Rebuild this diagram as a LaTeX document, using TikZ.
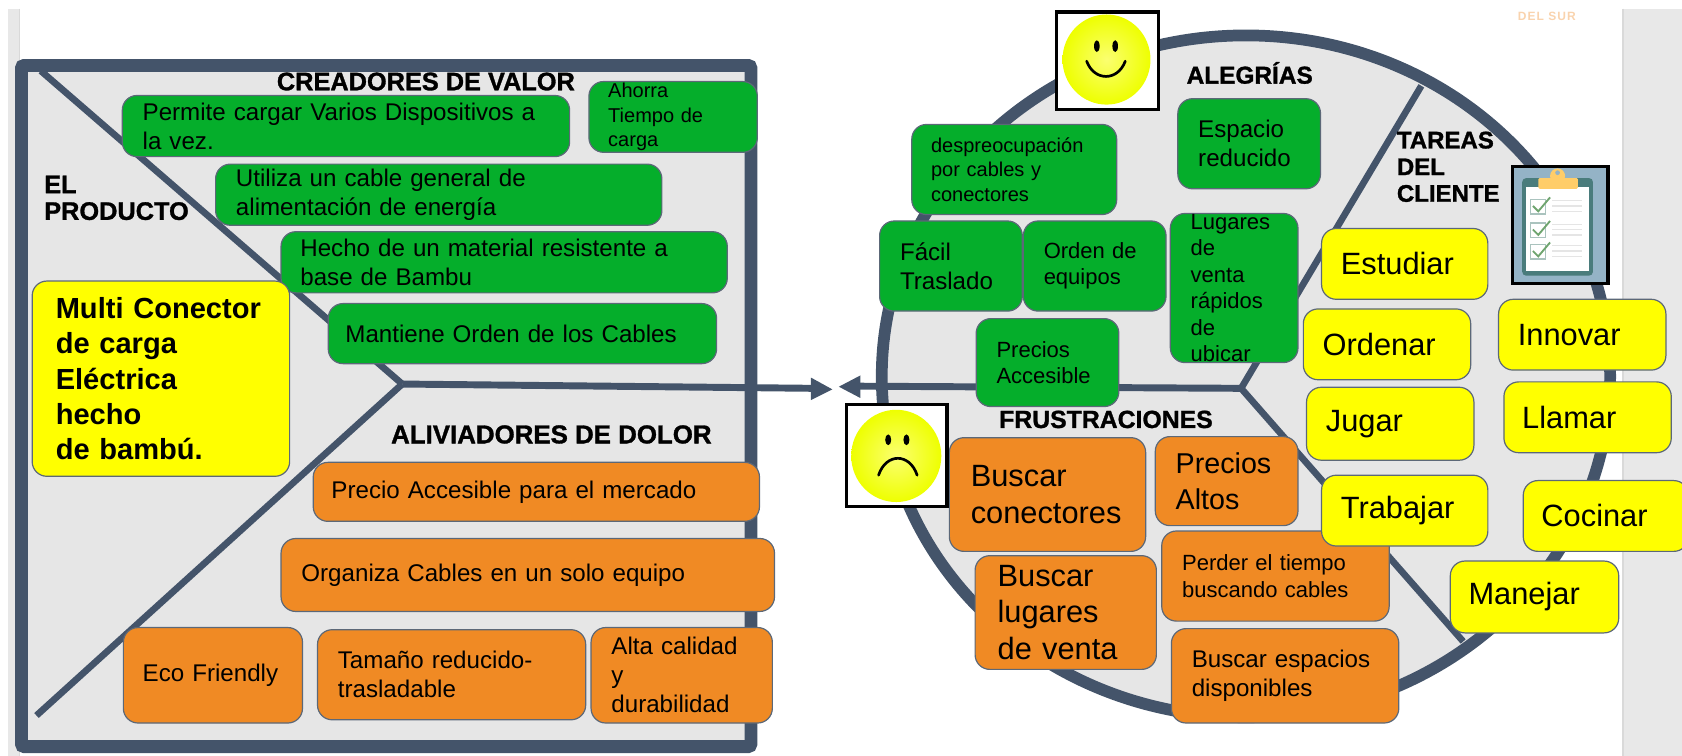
\documentclass[tikz,border=0pt]{standalone}
\usepackage{fontspec}
\setmainfont{Liberation Sans}
\newfontfamily\headfont[BoldFeatures={FakeBold=1.2}]{Liberation Sans}
\hyphenpenalty=10000
\exhyphenpenalty=10000
\definecolor{frameblue}{HTML}{44546A}
\definecolor{panel}{HTML}{E6E6E6}
\definecolor{sidebar}{HTML}{E8E8E8}
\definecolor{boxgreen}{HTML}{05AE2B}
\definecolor{boxorange}{HTML}{F08A24}
\definecolor{boxyellow}{HTML}{FFFF00}
\definecolor{boxedge}{HTML}{5C6878}
\definecolor{faceyellow}{HTML}{EEFF00}
\definecolor{facelight}{HTML}{FBFF70}
\definecolor{delsur}{HTML}{F9D3AE}
\definecolor{clipback}{HTML}{94B3C6}
\definecolor{clipboard}{HTML}{4A7C7C}
\definecolor{clipgold}{HTML}{FFCD69}
\definecolor{clipbox}{HTML}{AAC3BE}
\definecolor{clipcheck}{HTML}{6FA56F}
\tikzset{
  x=0.8045pt,y=-0.8045pt,
  card/.style={draw=boxedge,line width=0.9pt,rounded corners=11pt,align=left,text=black},
  green/.style={card,fill=boxgreen},
  orange/.style={card,fill=boxorange},
  yellow/.style={card,fill=boxyellow},
  med/.style={font=\fontsize{18.1}{21.7}\selectfont},
  sm/.style={font=\fontsize{15}{18.3}\selectfont},
  ms/.style={font=\fontsize{16.5}{19.8}\selectfont},
  big/.style={font=\fontsize{23.1}{27.4}\selectfont},
  head/.style={text=black,inner sep=0pt,align=left},
  bar/.style={frameblue,line width=5pt},
  shaft/.style={frameblue,line width=5.2pt},
  tip/.style={fill=frameblue,draw=none},
  iconframe/.style={draw=black,line width=2.6pt,fill=white},
  facefill/.style={inner color=facelight,outer color=faceyellow,draw=none},
  feature/.style={black,line width=2pt,line cap=round},
}
\newcommand{\hf}[1]{\fontsize{#1}{20}\headfont\bfseries}
% #1 style, #2 name, #3-#6 x1 y1 x2 y2, #7 text left edge, #8 text
\newcommand{\bx}[8]{%
  \pgfmathsetmacro{\bw}{(#5-#3)*0.8045}%
  \pgfmathsetmacro{\bh}{(#6-#4)*0.8045}%
  \pgfmathsetmacro{\bp}{(#7-#3)*0.8045}%
  \pgfmathsetmacro{\bt}{\bw-2*\bp}%
  \node[#1,anchor=center,inner xsep=0pt,inner ysep=0pt,minimum width=\bw pt,minimum height=\bh pt,text width=\bt pt] (#2) at ({(#3+#5)/2},{(#4+#6)/2}) {#8};%
}
\begin{document}
\begin{tikzpicture}
\useasboundingbox (0,0) rectangle (1568,704.7);
% window chrome
\fill[sidebar] (7,8) rectangle (18,704.7);
\draw[draw=black!15,line width=0.8pt] (18.5,8) -- (18.5,704.7);
\fill[sidebar] (1513,8) rectangle (1568,704.7);
\draw[draw=black!15,line width=0.8pt] (1513,8) -- (1513,704.7);
\node[font=\fontsize{9}{10}\selectfont\bfseries\addfontfeature{LetterSpace=9},text=delsur,inner sep=0pt] (delsur) at (1442,15) {DEL SUR};

% left canvas
\draw[draw=frameblue,fill=panel,line width=9.6pt,rounded corners=2pt] (20,61) rectangle (700,696);
\coordinate (hubL) at (375,358);
\coordinate (cornerTL) at (38,66);
\coordinate (cornerBL) at (34,667);
\coordinate (arrowR) at (758,362);
\draw[bar] (cornerTL) -- (hubL);
\draw[bar] (cornerBL) -- (hubL);
\draw[shaft] (hubL) -- (arrowR);
\fill[tip] (776,363) -- (756,373) -- (756,352) -- cycle;

% right canvas
\draw[draw=frameblue,fill=panel,line width=8.8pt] (1161.5,350.8) ellipse [x radius=339.5,y radius=317.8];
\coordinate (hubR) at (1157,362);
\coordinate (spokeTop) at (1325,80);
\coordinate (spokeBot) at (1364,598);
\coordinate (arrowL) at (800,360);
\draw[bar] (hubR) -- (spokeTop);
\draw[bar] (hubR) -- (spokeBot);
\draw[shaft] (hubR) -- (arrowL);
\fill[tip] (782,360.5) -- (802,350) -- (802,371) -- cycle;

% headings
\node[head,anchor=center,font=\hf{19}] (hCreadores) at (397,76) {CREADORES DE VALOR};
\node[head,anchor=west,font=\hf{19}] (hProducto) at (41,184.5) {EL\\PRODUCTO};
\node[head,anchor=center,font=\hf{19.4}] (hAliviadores) at (514,405) {ALIVIADORES DE DOLOR};
\node[head,anchor=center,font=\hf{18.3}] (hAlegrias) at (1165,68) {ALEGRÍAS};
\node[head,anchor=west,font=\hf{18}] (hTareas) at (1302,155.5) {TAREAS\\DEL\\CLIENTE};
\node[head,anchor=center,font=\hf{18.6}] (hFrustraciones) at (1031,391) {FRUSTRACIONES};

% value creators
\bx{green,med}{permite}{114}{89}{531}{146}{133}{Permite cargar Varios Dispositivos a\\la vez.}
\bx{green,sm}{ahorra}{549}{76}{706}{142}{567}{Ahorra\\Tiempo de\\carga}
\bx{green,med}{utiliza}{201}{153}{617}{210}{220}{Utiliza un cable general de\\alimentación de energía}
\bx{green,med}{hecho}{262}{216}{678}{273}{280}{Hecho de un material resistente a\\base de Bambu}
\bx{green,med}{mantiene}{306}{283}{668}{339}{322}{Mantiene Orden de los Cables}
% product
\bx{yellow,font=\fontsize{21.8}{26.5}\selectfont\bfseries}{multi}{30}{262}{270}{444}{52}{Multi Conector\\de carga\\Eléctrica\\hecho\\de bambú.}
% pain relievers
\bx{orange,med}{precio}{292}{431}{708}{486}{309}{Precio Accesible para el mercado}
\bx{orange,med}{organiza}{262}{502}{722}{570}{281}{Organiza Cables en un solo equipo}
\bx{orange,med}{eco}{115}{585}{282}{674}{133}{Eco Friendly}
\bx{orange,med}{tamano}{296}{587}{546}{671}{315}{Tamaño reducido-\\trasladable}
\bx{orange,med}{alta}{551}{585}{720}{674}{570}{Alta calidad\\y\\durabilidad}

% gains
\bx{green,sm}{despreo}{850}{116}{1041}{200}{868}{despreocupación\\por cables y\\conectores}
\bx{green,med}{espacio}{1098}{92}{1231}{176}{1117}{Espacio\\reducido}
\bx{green,med}{facil}{820}{206}{953}{290}{839}{Fácil\\Traslado}
\bx{green,ms}{ordeneq}{954}{206}{1087}{290}{973}{Orden de\\equipos}
\bx{green,ms}{lugares}{1091}{199}{1210}{338}{1110}{Lugares\\de\\venta\\rápidos\\de\\ubicar}
\bx{green,ms}{precacc}{910}{297}{1043}{379}{929}{Precios\\Accesible}

% pains
\bx{orange,big}{busconec}{885}{408}{1068}{514}{905}{Buscar\\conectores}
\bx{orange,font=\fontsize{21.5}{26.5}\selectfont}{altos}{1077}{407}{1210}{490}{1096}{Precios\\Altos}
\bx{orange,ms}{perder}{1083}{495}{1295}{579}{1102}{Perder el tiempo\\buscando cables}
\bx{orange,big}{buslug}{909}{518}{1078}{624}{930}{Buscar\\lugares\\de venta}
\bx{orange,med}{busesp}{1092}{586}{1304}{674}{1111}{Buscar espacios\\disponibles}

% jobs
\bx{yellow,big}{estudiar}{1232}{213}{1387}{279}{1250}{Estudiar}
\bx{yellow,big}{ordenar}{1215}{288}{1371}{354}{1233}{Ordenar}
\bx{yellow,big}{jugar}{1218}{361}{1374}{429}{1236}{Jugar}
\bx{yellow,big}{trabajar}{1232}{443}{1387}{509}{1250}{Trabajar}
\bx{yellow,big}{innovar}{1397}{279}{1553}{345}{1415}{Innovar}
\bx{yellow,big}{llamar}{1402}{356}{1558}{422}{1419}{Llamar}
\bx{yellow,big}{cocinar}{1420}{448}{1574}{514}{1437}{Cocinar}
\bx{yellow,big}{manejar}{1352}{523}{1509}{590}{1369}{Manejar}

% smiley icon
\draw[iconframe] (985,11) rectangle (1080,102);
\shade[facefill] (1031.5,55.5) ellipse [x radius=41,y radius=42];
\fill[black] (1022.5,43) ellipse [x radius=2.6,y radius=5.5];
\fill[black] (1039.6,43) ellipse [x radius=2.6,y radius=5.5];
\draw[feature] (1013,57) .. controls (1020,76) and (1042,76) .. (1049,57);

% frown icon
\draw[iconframe] (789,377) rectangle (883,472);
\shade[facefill] (835.5,425) ellipse [x radius=42,y radius=43];
\fill[black] (828,410) ellipse [x radius=2.8,y radius=5];
\fill[black] (845,410) ellipse [x radius=2.8,y radius=5];
\draw[feature] (819,443) .. controls (826,422) and (848,422) .. (855,443);

% clipboard icon
\fill[clipback] (1410,155) rectangle (1499,264);
\fill[clipboard,rounded corners=3pt] (1419,166) rectangle (1485,257);
\fill[white] (1423,174) rectangle (1481,253);
\fill[clipgold,rounded corners=1pt] (1434,166) rectangle (1471,176);
\fill[clipgold] (1452,164) circle [radius=7];
\fill[clipback] (1452,161) circle [radius=2.2];
\foreach \yy in {186,208,228}{
  \draw[clipbox,line width=1pt] (1427,\yy) rectangle (1441,{\yy+13.5});
  \draw[clipcheck,line width=1.4pt] (1429,{\yy+6}) -- (1434,{\yy+11}) -- (1445,{\yy-2});
  \draw[black!10,line width=1pt] (1447,{\yy+1}) -- (1475,{\yy+1});
  \draw[black!10,line width=1pt] (1447,{\yy+6}) -- (1475,{\yy+6});
  \draw[black!10,line width=1pt] (1447,{\yy+11}) -- (1475,{\yy+11});
}
\draw[draw=black,line width=2.4pt] (1410,155) rectangle (1499,264);
\end{tikzpicture}
\end{document}
